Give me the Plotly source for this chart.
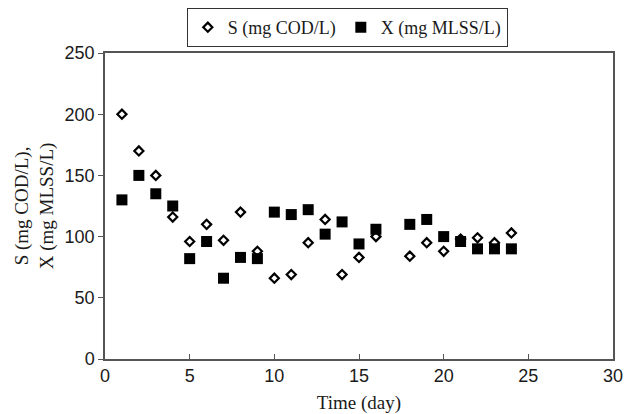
import plotly.graph_objects as go

days_s = [1, 2, 3, 4, 5, 6, 7, 8, 9, 10, 11, 12, 13, 14, 15, 16, 18, 19, 20, 21, 22, 23, 24]
s_vals = [200, 170, 150, 116, 96, 110, 97, 120, 88, 66, 69, 95, 114, 69, 83, 100, 84, 95, 88, 98, 99, 95, 103]

days_x = [1, 2, 3, 4, 5, 6, 7, 8, 9, 10, 11, 12, 13, 14, 15, 16, 18, 19, 20, 21, 22, 23, 24]
x_vals = [130, 150, 135, 125, 82, 96, 66, 83, 82, 120, 118, 122, 102, 112, 94, 106, 110, 114, 100, 96, 90, 90, 90]

x_ticks = [0, 5, 10, 15, 20, 25, 30]
y_ticks = [0, 50, 100, 150, 200, 250]

fig = go.Figure()
fig.add_trace(go.Scatter(
    x=days_s, y=s_vals, mode="markers", name="S (mg COD/L)",
    marker=dict(symbol="diamond-open", size=7, color="black", line=dict(width=2.2, color="black")),
))
fig.add_trace(go.Scatter(
    x=days_x, y=x_vals, mode="markers", name="X (mg MLSS/L)",
    marker=dict(symbol="square", size=11, color="black", line=dict(width=0)),
))

axis_col = "#555555"
txt_col = "#1a1a1a"
fig.update_layout(
    width=625, height=414,
    margin=dict(l=105, r=12, t=53, b=55, autoexpand=False),
    paper_bgcolor="white", plot_bgcolor="white",
    showlegend=True,
    legend=dict(
        orientation="h", x=0.477, xanchor="center", y=1.147, yanchor="top",
        bordercolor="#333333", borderwidth=1, bgcolor="white",
        font=dict(family="Liberation Serif", size=18, color=txt_col),
        itemwidth=30, tracegroupgap=0,
    ),
    xaxis=dict(
        range=[0, 30], tickvals=x_ticks, ticks="inside", ticklen=5, tickcolor=axis_col,
        showline=True, linecolor=axis_col, linewidth=1.5, mirror=True, showgrid=False, zeroline=False,
        tickfont=dict(family="Liberation Sans", size=18, color=txt_col), automargin=False,
        title=dict(text="Time (day)", font=dict(family="Liberation Serif", size=19, color=txt_col), standoff=10),
    ),
    yaxis=dict(
        range=[0, 250], tickvals=y_ticks, ticks="outside", ticklen=5, tickcolor=axis_col,
        showline=True, linecolor=axis_col, linewidth=1.5, mirror=True, showgrid=False, zeroline=False,
        tickfont=dict(family="Liberation Sans", size=18, color=txt_col), automargin=False,
        title=dict(text="S (mg COD/L),<br>X (mg MLSS/L)", font=dict(family="Liberation Serif", size=19, color=txt_col), standoff=6),
    ),
)

fig.write_html(
    "out.html",
    config={"displayModeBar": False},
    post_script="document.body.style.margin='0';document.body.style.padding='0';document.body.style.overflow='hidden';",
)
